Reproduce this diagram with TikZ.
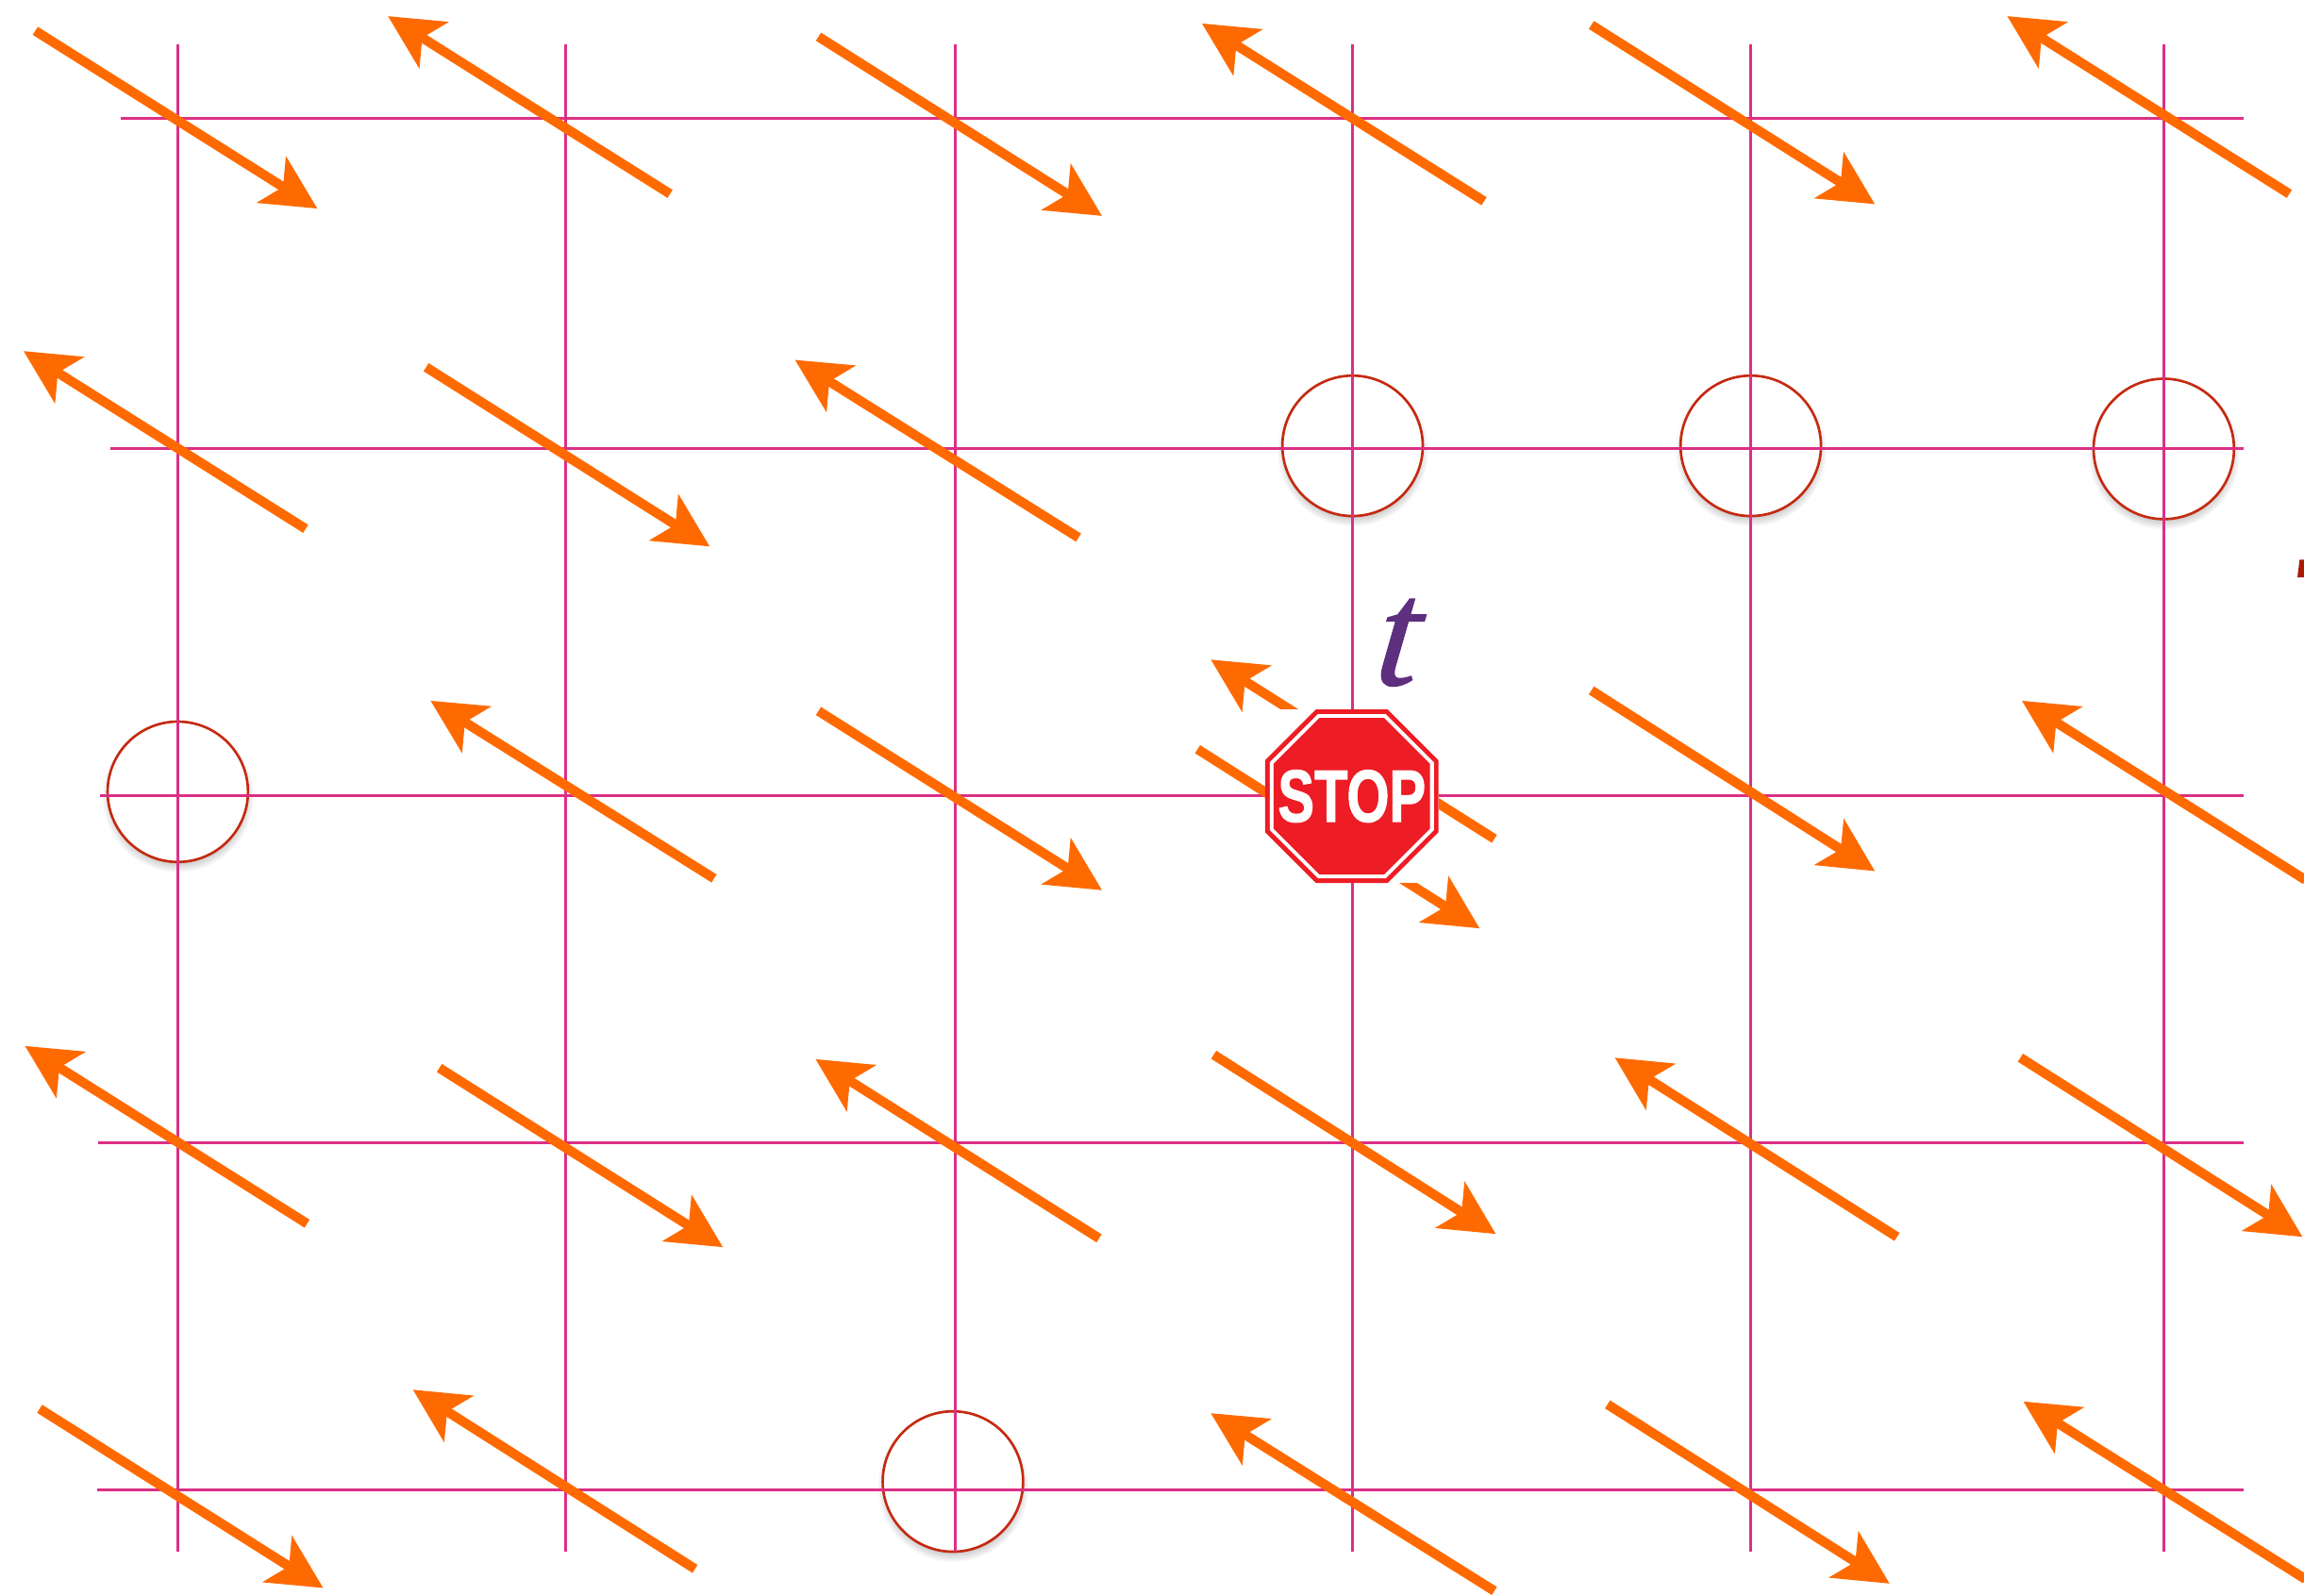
\documentclass[tikz,border=0pt]{standalone}
\usepackage{fontspec}
\setmainfont{Liberation Sans}
\newfontfamily\tfont[RawFeature={embolden=0.8}]{Liberation Serif Italic}
\newfontfamily\stopfont[RawFeature={embolden=1.6}]{Liberation Sans Bold}
\usetikzlibrary{arrows.meta,shapes.geometric,shadows,fadings}
\definecolor{gridpink}{HTML}{DC2F85}
\definecolor{arroworange}{HTML}{FF6A00}
\definecolor{ringred}{HTML}{C42A10}
\definecolor{signred}{HTML}{EE1C25}
\definecolor{labelpurple}{HTML}{5E2F7E}
\definecolor{edgered}{HTML}{AA1A00}
\tikzset{
  gridline/.style={gridpink,line width=0.017cm},
  latticearrow/.style={arroworange,line width=0.065cm,-{Stealth[length=0.366cm,width=0.366cm,inset=0.09cm]}},
  ringmark/.style={circle,draw=ringred,line width=0.017cm,fill=white,minimum size=0.955cm,inner sep=0pt,
    circular drop shadow={shadow scale=1.08,shadow xshift=0cm,shadow yshift=-0.03cm,opacity=0.45}},
  signplate/.style={regular polygon,regular polygon sides=8,inner sep=0pt,outer sep=0pt},
}
\begin{document}
\begin{tikzpicture}[x=0.01cm,y=-0.01cm]
\useasboundingbox (0,0) rectangle (1568,1086);
\clip (0,0) rectangle (1568,1086);
% rings sit under the grid
\node[ringmark] (ringa) at (920.5,303.5) {};
\node[ringmark] (ringb) at (1191.5,303.5) {};
\node[ringmark] (ringc) at (1472.6,305.6) {};
\node[ringmark] (ringd) at (121,539) {};
\node[ringmark] (ringe) at (648.5,1008.5) {};
% grid
\draw[gridline] (121,30) -- (121,1056);
\draw[gridline] (385,30) -- (385,1056);
\draw[gridline] (650,30) -- (650,1056);
\draw[gridline] (920.5,30) -- (920.5,1056);
\draw[gridline] (1191.5,30) -- (1191.5,1056);
\draw[gridline] (1472.6,30) -- (1472.6,1056);
\draw[gridline] (82,80.5) -- (1527,80.5);
\draw[gridline] (75,305.5) -- (1527,305.5);
\draw[gridline] (68,541.7) -- (1527,541.7);
\draw[gridline] (67,778) -- (1527,778);
\draw[gridline] (66,1014) -- (1527,1014);
% row 1
\draw[latticearrow] (24,21) -- (216,142);
\draw[latticearrow] (456,132) -- (264,11);
\draw[latticearrow] (557,25) -- (750,147);
\draw[latticearrow] (1010,137) -- (818,16);
\draw[latticearrow] (1083,17) -- (1276,139);
\draw[latticearrow] (1558,132) -- (1366,11);
% row 2
\draw[latticearrow] (208,360) -- (16,239);
\draw[latticearrow] (290,250) -- (483,372);
\draw[latticearrow] (734,366) -- (541,245);
% row 3
\draw[latticearrow] (486,598) -- (293,477);
\draw[latticearrow] (557,484) -- (750,606);
\draw[latticearrow] (1017,571) -- (824,449);
\draw[latticearrow] (815,510) -- (1007,632);
\draw[latticearrow] (1083,470) -- (1276,593);
\draw[latticearrow] (1569,599) -- (1376,477);
% row 4
\draw[latticearrow] (209,833) -- (17,712);
\draw[latticearrow] (299,727) -- (492,849);
\draw[latticearrow] (748,843) -- (555,721);
\draw[latticearrow] (826,718) -- (1018,840);
\draw[latticearrow] (1291,842) -- (1099,720);
\draw[latticearrow] (1375,720) -- (1567,842);
% row 5
\draw[latticearrow] (27,959) -- (220,1081);
\draw[latticearrow] (473,1068) -- (281,946);
\draw[latticearrow] (1017,1083) -- (824,962);
\draw[latticearrow] (1094,956) -- (1286,1078);
\draw[latticearrow] (1569,1075) -- (1377,954);
% stop sign
\node[fill=white,minimum size=1.18cm,inner sep=0pt,outer sep=0pt] (signback) at (920,542) {};
\node[signplate,fill=signred,minimum size=1.277cm] (signouter) at (920,542) {};
\node[signplate,fill=white,minimum size=1.208cm] (signwhite) at (920,542) {};
\node[signplate,fill=signred,minimum size=1.152cm] (signinner) at (920,542) {};
\node[text=white,font=\stopfont\fontsize{14.3pt}{14.3pt}\selectfont,xscale=0.74,transform shape,inner sep=0pt] (stoptext) at (920,542) {STOP};
% label and the cut-off mark at the edge
\node[text=labelpurple,font=\tfont\fontsize{29.5pt}{29.5pt}\selectfont,xslant=0.11,transform shape,inner sep=0pt] (tlabel) at (952,437.5) {t};
\fill[edgered] (1563.5,393) -- (1565,381) -- (1568,381) -- (1568,393) -- cycle;
\end{tikzpicture}
\end{document}
